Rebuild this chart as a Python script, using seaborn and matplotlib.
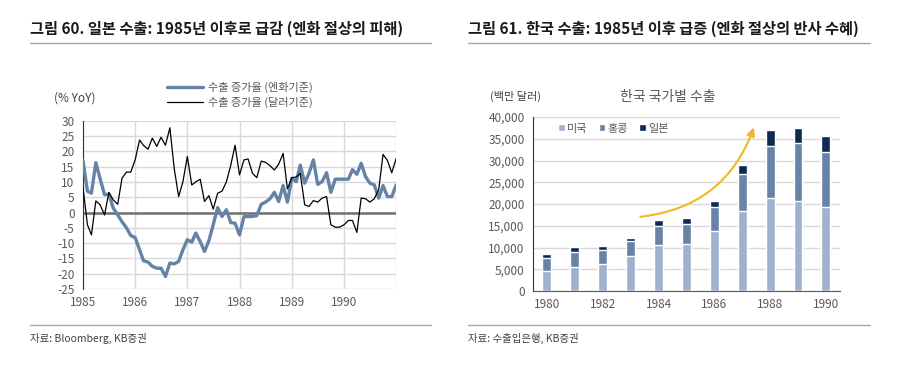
import numpy as np
import pandas as pd
import matplotlib.pyplot as plt
from matplotlib.lines import Line2D
from matplotlib.ticker import FuncFormatter
import seaborn as sns

# 일본 수출 증가율 (월별, % YoY), 1985.01 ~ 1991.01
months = pd.date_range('1985-01-01', '1991-01-01', freq='MS')
yen_growth = [
    17, 7, 6.3, 16.3, 11, 5.8, 6, 1.4, -0.8, -3, -5, -7.5,
    -8.2, -12.2, -15.8, -16.2, -17.6, -18.2, -18.2, -20.9, -16.5, -16.8, -16, -12.2,
    -8.9, -9.7, -6.7, -9.5, -12.7, -9.2, -4, 1.6, -1.3, 0.9, -3.3, -3.5,
    -7.3, -1.3, -1.3, -1.3, -1, 2.7, 3.4, 4.5, 6.6, 3.6, 8.8, 3.4,
    11.2, 10.1, 15.5, 9.6, 12.8, 17.2, 9.2, 10.1, 13, 6.6, 10.9, 10.9,
    10.9, 10.9, 14, 12.5, 16.1, 11.7, 9.6, 9, 4.7, 8.8, 5.2, 5.2,
    9,
]
usd_growth = [
    8.2, -4, -7.3, 3.8, 2.5, -0.8, 6.6, 4.1, 2.7, 11.2, 13.2, 13.2,
    17.2, 23.7, 21.9, 20.7, 24.3, 21.6, 24.6, 22, 27.7, 14.5, 5.2, 10,
    18.3, 9, 10, 10.9, 3.6, 5.5, 1.1, 6.3, 7, 10, 15.5, 22,
    12.3, 17.2, 17.5, 12.8, 11.4, 16.8, 16.4, 15.3, 13.9, 15.8, 19.3, 7.7,
    11.4, 11.6, 12.8, 2.5, 2, 3.9, 3.4, 4.7, 5.2, -4, -4.8, -4.8,
    -4, -2.6, -2.6, -6.5, 4.7, 4.5, 3.4, 4.5, 7.5, 19, 17, 13,
    17.7,
]
year_ticks = ['1985', '1986', '1987', '1988', '1989', '1990', '1991']

# 한국 국가별 수출 (백만 달러)
years = ['1980', '1981', '1982', '1983', '1984', '1985',
         '1986', '1987', '1988', '1989', '1990']
exp_us = [4600, 5600, 6200, 8100, 10500, 10700, 13800, 18300, 21300, 20600, 19400]
exp_hk = [3000, 3400, 3200, 3400, 4400, 4600, 5500, 8500, 12100, 13400, 12600]
exp_jp = [800, 1100, 900, 800, 1400, 1500, 1500, 2100, 3500, 3400, 3700]

sns.set_style('white')
plt.rcParams['font.family'] = ['Noto Sans CJK KR', 'DejaVu Sans']
plt.rcParams['axes.unicode_minus'] = False

BLUE = '#6582a7'
GRID = '#d9d9d9'
TXT = '#595959'
LIGHT = '#9fb1cd'
MID = '#6783a9'
NAVY = '#0c2a52'

fig = plt.figure(figsize=(9, 3.71), dpi=100)
ax1 = fig.add_axes([0.0922, 0.221, 0.348, 0.4536])
ax2 = fig.add_axes([0.5922, 0.2156, 0.341, 0.469])

# --- left: 일본 수출 증가율
df_line = pd.DataFrame({'month': months, 'yen': yen_growth, 'usd': usd_growth})
sns.lineplot(data=df_line, x='month', y='yen', ax=ax1, color=BLUE, lw=2.4,
             label='수출 증가율 (엔화기준)', zorder=3)
sns.lineplot(data=df_line, x='month', y='usd', ax=ax1, color='black', lw=0.9,
             label='수출 증가율 (달러기준)', zorder=4)
ax1.axhline(0, color='#707070', lw=1.8, zorder=2)
ax1.set_ylim(-25, 30)
ax1.set_yticks(range(-25, 31, 5))
ax1.set_xlim(pd.Timestamp('1985-01-01'), pd.Timestamp('1991-01-01'))
ax1.set_xticks([pd.Timestamp(y + '-01-01') for y in year_ticks])
ax1.set_xticklabels(year_ticks[:-1] + [''])
ax1.grid(True, color=GRID, lw=1)
ax1.set_xlabel('')
ax1.set_ylabel('')
for s in ['top', 'right', 'bottom']:
    ax1.spines[s].set_visible(False)
ax1.spines['left'].set_color('#333333')
ax1.tick_params(axis='y', direction='out', length=4, color='#333333',
                labelsize=8.5, labelcolor=TXT, pad=2)
ax1.tick_params(axis='x', length=0, labelsize=8.5, labelcolor=TXT, pad=5)
ax1.legend(loc='lower center', bbox_to_anchor=(0.5, 1.04), frameon=False,
           fontsize=8, handlelength=3.3, labelcolor=TXT, labelspacing=0.35,
           borderpad=0, handletextpad=0.4)
fig.text(75 / 900, 1 - 98 / 371, '(% YoY)', fontsize=8.5, color='#404040',
         ha='center', va='center')

# --- right: 한국 국가별 수출 (stacked)
df_bar = pd.DataFrame({'year': years, 'us': exp_us, 'hk': exp_hk, 'jp': exp_jp})
df_bar['us_hk'] = df_bar['us'] + df_bar['hk']
df_bar['total'] = df_bar['us_hk'] + df_bar['jp']
sns.barplot(data=df_bar, x='year', y='total', color=NAVY, width=0.32,
            saturation=1, ax=ax2, label='일본', zorder=3)
sns.barplot(data=df_bar, x='year', y='us_hk', color=MID, width=0.32,
            saturation=1, ax=ax2, label='홍콩', zorder=3)
sns.barplot(data=df_bar, x='year', y='us', color=LIGHT, width=0.32,
            saturation=1, ax=ax2, label='미국', zorder=3)
ax2.set_ylim(0, 40000)
ax2.set_yticks(range(0, 40001, 5000))
ax2.yaxis.set_major_formatter(FuncFormatter(lambda v, p: f'{int(v):,}'))
ax2.set_xlim(-0.5, 10.5)
ax2.set_xticks(range(0, 11, 2))
ax2.set_xticklabels(years[::2])
ax2.set_xticks([1.5, 3.5, 5.5, 7.5, 9.5], minor=True)
ax2.grid(True, axis='y', color=GRID, lw=1)
ax2.set_xlabel('')
ax2.set_ylabel('')
for s in ['top', 'right']:
    ax2.spines[s].set_visible(False)
ax2.spines['left'].set_color('#333333')
ax2.spines['bottom'].set_color('#595959')
ax2.tick_params(axis='y', direction='out', length=4, color='#333333',
                labelsize=8.5, labelcolor=TXT, pad=2)
ax2.tick_params(axis='x', which='major', length=0, labelsize=8.5,
                labelcolor=TXT, pad=5)
ax2.tick_params(axis='x', which='minor', direction='out', length=3,
                color='#595959')
h, l = ax2.get_legend_handles_labels()
ax2.legend(h[::-1], l[::-1], loc='upper left', bbox_to_anchor=(0.05, 1.02),
           ncol=3, frameon=False, fontsize=8, labelcolor=TXT,
           handlelength=0.6, handleheight=0.6, handletextpad=0.2,
           columnspacing=1.0)
ax2.annotate('', xy=(7.45, 38200), xytext=(3.25, 17000),
             arrowprops=dict(arrowstyle='-|>', color='#f2b62a', lw=1.5,
                             mutation_scale=12,
                             connectionstyle='arc3,rad=0.32'),
             zorder=5)
fig.text(668 / 900, 1 - 97 / 371, '한국 국가별 수출', fontsize=10, color=TXT,
         ha='center', va='center')
fig.text(515 / 900, 1 - 96 / 371, '(백만 달러)', fontsize=8, color='#404040',
         ha='center', va='center')

# --- titles, rules, sources
fig.text(30 / 900, 1 - 29 / 371,
         '그림 60. 일본 수출: 1985년 이후로 급감 (엔화 절상의 피해)',
         fontsize=11, weight='bold', color='#1a1a1a', va='center')
fig.text(468 / 900, 1 - 29 / 371,
         '그림 61. 한국 수출: 1985년 이후 급증 (엔화 절상의 반사 수혜)',
         fontsize=11, weight='bold', color='#1a1a1a', va='center')
for x0, x1 in [(30, 431), (468, 870)]:
    for yy in [43, 325]:
        fig.add_artist(Line2D([x0 / 900, x1 / 900], [1 - yy / 371] * 2,
                              color='#a6a6a6', lw=1))
fig.text(30 / 900, 1 - 338 / 371, '자료: Bloomberg, KB증권', fontsize=7.5,
         color='#404040', va='center')
fig.text(468 / 900, 1 - 338 / 371, '자료: 수출입은행, KB증권', fontsize=7.5,
         color='#404040', va='center')

fig.savefig('out.png', dpi=100)
